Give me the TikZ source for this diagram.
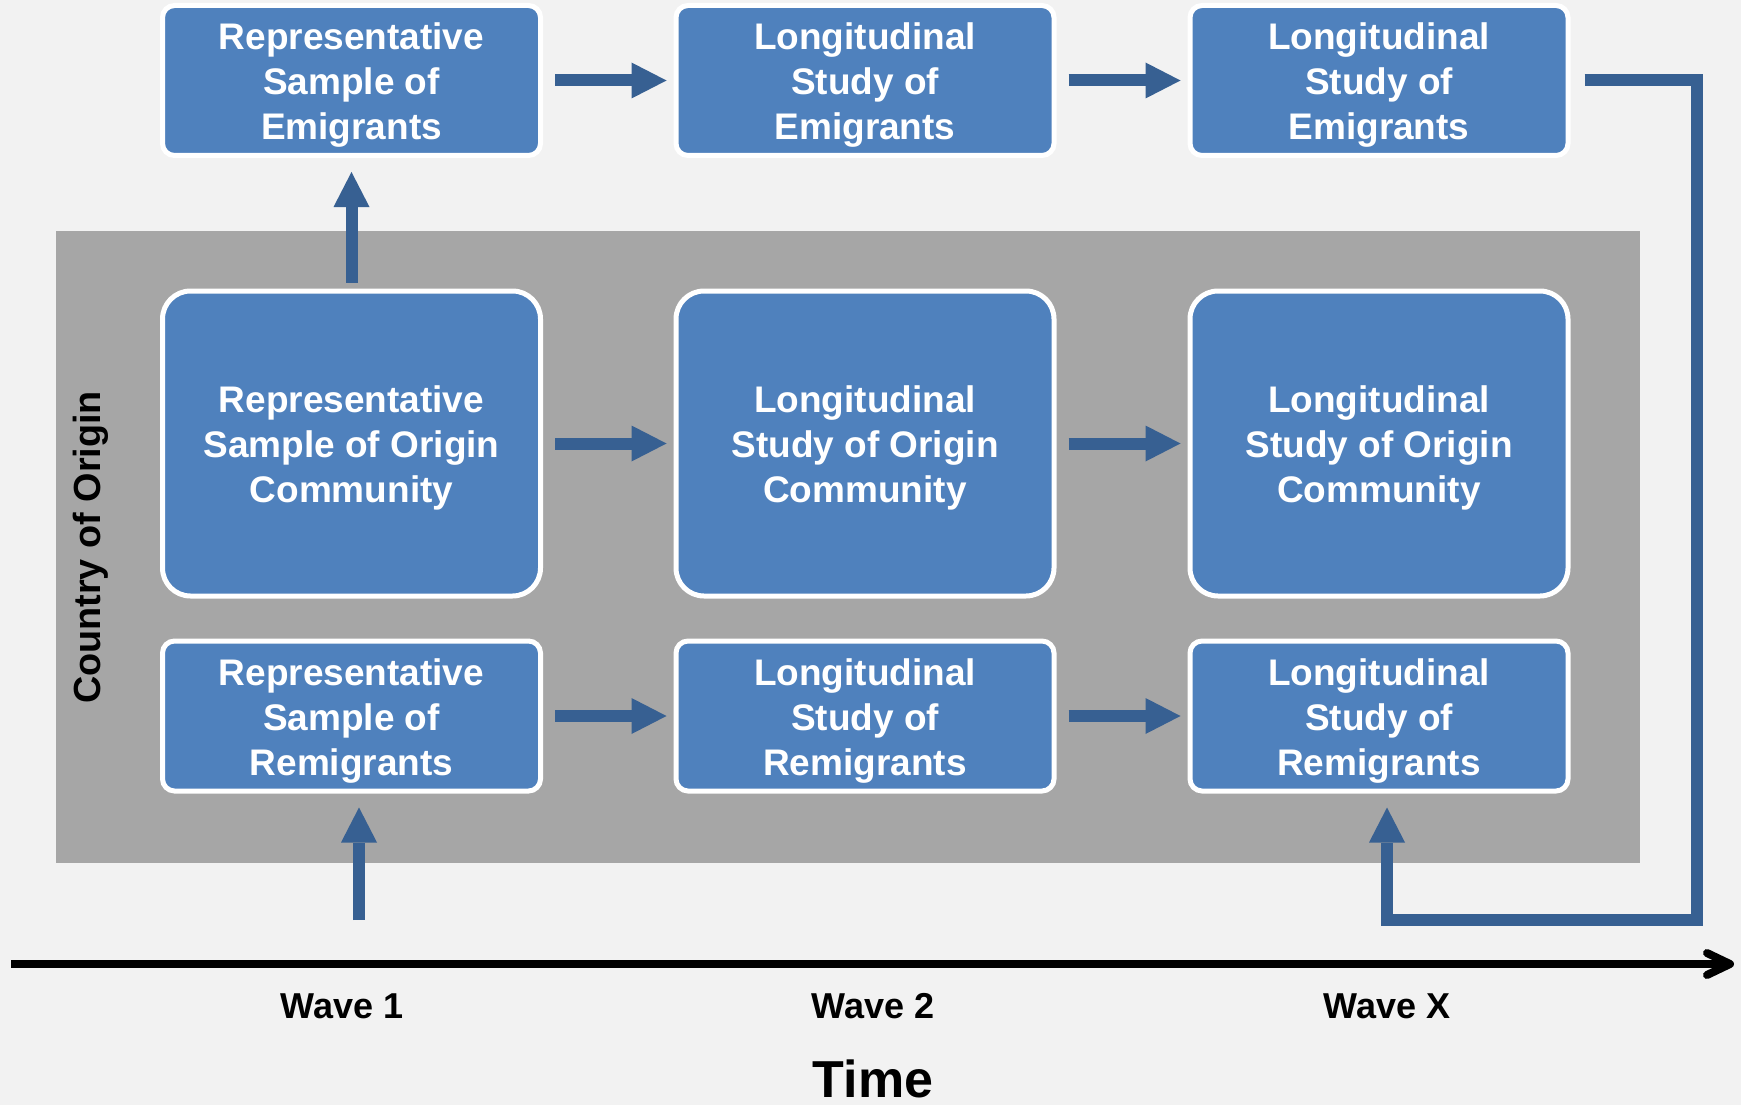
\documentclass[tikz,border=0pt]{standalone}
\usepackage{fontspec}
\setmainfont{Liberation Sans}
\usetikzlibrary{arrows.meta}
\definecolor{boxblue}{HTML}{4F81BD}
\definecolor{arrblue}{HTML}{376092}
\definecolor{bggray}{HTML}{F2F2F2}
\definecolor{origingray}{HTML}{A6A6A6}
\newcommand{\mytopstrut}{\rule{0pt}{36.5pt}}
\begin{document}
\begin{tikzpicture}[x=1pt,y=-1pt,
  box/.style={draw=white, line width=5pt, fill=boxblue, text=white,
    font=\fontsize{37}{45}\selectfont\bfseries, align=center, inner sep=0pt,
    minimum width=378pt},
  smallbox/.style={box, minimum height=150pt, rounded corners=12pt},
  bigbox/.style={box, minimum height=305pt, rounded corners=28pt},
  flow/.style={draw=arrblue, line width=12pt,
    -{Triangle[width=36pt,length=35pt,line width=0pt]}},
  lab/.style={text=black, inner sep=0pt, font=\fontsize{36}{43}\selectfont\bfseries},
]
\useasboundingbox (0,0) rectangle (1741,1105);
\fill[bggray] (0,0) rectangle (1741,1105);
\fill[origingray] (56,231) rectangle (1640,863);

% top row
\node[smallbox] (t1) at (351.5,80.5) {\mytopstrut Representative\\Sample of\\Emigrants};
\node[smallbox] (t2) at (865,80.5) {\mytopstrut Longitudinal\\Study of\\Emigrants};
\node[smallbox] (t3) at (1379,80.5) {\mytopstrut Longitudinal\\Study of\\Emigrants};
% middle row
\node[bigbox] (m1) at (351.5,443.5) {\mytopstrut Representative\\Sample of Origin\\Community};
\node[bigbox] (m2) at (865,443.5) {\mytopstrut Longitudinal\\Study of Origin\\Community};
\node[bigbox] (m3) at (1379,443.5) {\mytopstrut Longitudinal\\Study of Origin\\Community};
% bottom row
\node[smallbox] (b1) at (351.5,716) {\mytopstrut Representative\\Sample of\\Remigrants};
\node[smallbox] (b2) at (865,716) {\mytopstrut Longitudinal\\Study of\\Remigrants};
\node[smallbox] (b3) at (1379,716) {\mytopstrut Longitudinal\\Study of\\Remigrants};

\node[lab, rotate=90, font=\fontsize{37.8}{45}\selectfont\bfseries] (coo) at (91,547.5) {Country of Origin};

% horizontal arrows
\foreach \a/\b in {t1/t2,t2/t3,m1/m2,m2/m3,b1/b2,b2/b3}
  \draw[flow, shorten <=12pt, shorten >=7pt] (\a) -- (\b);

% up arrow middle -> top
\draw[flow, shorten <=6pt, shorten >=14pt] (m1.north) -- (t1.south);

% wave 1 arrow
\coordinate (w1s) at (359,920);
\draw[flow, shorten >=14pt] (w1s) -- (w1s |- b1.south);

% elbow connector
\coordinate (c2) at (1697,920);
\coordinate (c3) at (1387,920);
\draw[flow, line join=miter, shorten <=14pt, shorten >=14pt]
  (t3.east) -- (t3.east -| c2) -- (c2) -- (c3) -- (c3 |- b3.south);

% time axis
\coordinate (ax0) at (11,964);
\coordinate (ax1) at (1730,964);
\draw[line width=8pt] (ax0) -- (ax1);
\draw[line width=8pt, line cap=round, line join=round]
  (1707,953) -- (1730,964) -- (1707,975);

\node[lab] (wv1) at (342,1006) {Wave 1};
\node[lab] (wv2) at (873,1006) {Wave 2};
\node[lab] (wvx) at (1387,1006) {Wave X};
\node[lab, font=\fontsize{52}{60}\selectfont\bfseries] (time) at (873,1079) {Time};
\end{tikzpicture}
\end{document}
